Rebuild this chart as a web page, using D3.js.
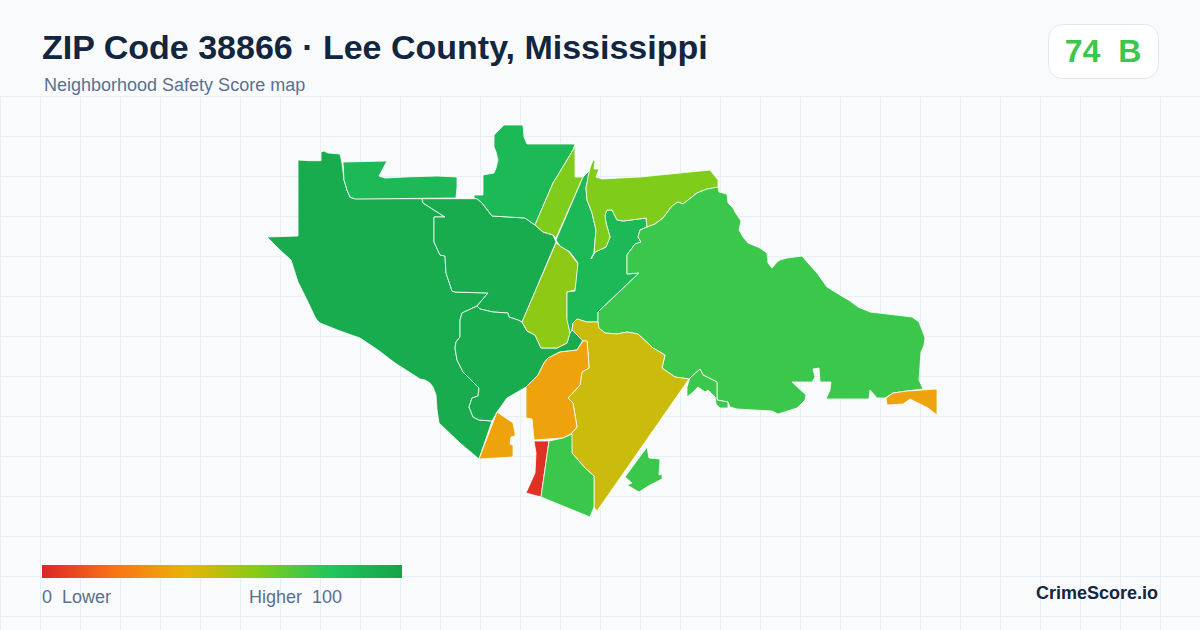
<!DOCTYPE html>
<html>
<head>
<meta charset="utf-8">
<title>ZIP Code 38866</title>
<script src="https://cdn.jsdelivr.net/npm/d3@7"></script>
<style>
  html, body { margin: 0; padding: 0; background: #f8fafc; }
  svg { display: block; }
  text { font-family: "Liberation Sans", Arial, sans-serif; white-space: pre; }
</style>
</head>
<body>
<svg id="chart" width="1200" height="630"></svg>
<script>
//
// Chart data. Boundaries are in map units.
//

var titleText = "ZIP Code 38866 \u00b7 Lee County, Mississippi";
var subtitleText = "Neighborhood Safety Score map";
var overallScore = 75;
var overallLabel = "74  B";
var legendStops = [0, 20, 40, 60, 80, 100];
var legendColors = ["#dc2626", "#f97316", "#eab308", "#84cc16", "#22c55e", "#16a34a"];

var westTract = [[38,40],[49,40.7],[61,40.7],[61,32],[64,31],[68,33],[80,34],[82,43],[84,60],[87,70],[90,77.5],[95,78.7],[162,78.7],[163,83],[185,97],[174,97],[174,122],[180,135],[185,136],[186,153],[192,171],[195,172],[228,173],[217,186],[202,193],[200,200],[200,217],[196,222],[195,228],[197,240],[203,252],[219,268],[218,276],[212,278],[209,287],[213,297],[219,300],[232,301],[219,339],[200,323],[179,303],[177,290],[176,275],[173,267],[170,263],[165,260],[160,259],[135,243],[118,230],[100,218],[80,211],[60,203],[57,200],[55,197],[47,180],[38,162],[31,140],[20,130],[7,117],[38,116]];
var lowerMidTract = [[202,193],[217,186],[220,189],[233,192],[248,193],[249,197],[258,200],[262,202],[267,211],[275,215],[281,228],[297,228],[307,223],[310,212],[312,210],[323,220],[317,230],[300,232],[288,238],[284,243],[278,255],[266,267],[247,278],[237,292],[232,301],[219,300],[213,297],[209,287],[212,278],[218,276],[219,268],[203,252],[197,240],[195,228],[196,222],[200,217],[200,200]];
var upperMidTract = [[162,78.7],[217,78.7],[222,83],[232,96],[265,98],[275,105],[283,112],[293,115],[296,122],[263,200],[262,202],[258,200],[249,197],[248,193],[233,192],[220,189],[217,186],[228,173],[195,172],[192,171],[186,153],[185,136],[180,135],[174,122],[174,97],[185,97],[163,83]];
var northStripTract = [[83,42],[127,41],[119,56],[125,58],[145,57],[177,56],[197,57],[197,67],[196,78],[95,79],[90,77],[87,70],[84,60]];
var northTract = [[244,5],[263,5],[264,17],[267,24],[315,24],[313,30],[298,55],[293,63],[275,105],[265,98],[232,96],[222,83],[217,78.7],[214,78],[214,75],[223,75],[223,55],[234,53],[236,48],[238,40],[236,32],[234,27],[234,15]];
var limeStripTract = [[315,24],[315,57],[323,57],[296,118],[293,115],[283,112],[275,105],[293,63],[298,55],[313,30]];
var limeLowerTract = [[296,123],[302,127],[308,131],[315,140],[318,144],[317,157],[315,170],[307,172],[307,197],[310,213],[307,223],[297,228],[281,228],[275,215],[267,211],[262,202]];
var forkTract = [[330,50],[326,68],[327,80],[332,93],[336,110],[334,133],[331,139],[335,132],[346,127],[350,117],[346,103],[345,95],[347,90],[352,90],[357,100],[363,101],[386,98],[387,107],[380,110],[378,117],[381,122],[375,124],[367,135],[367,154],[379,153],[338,192],[338,202],[327,202],[317,199],[313,203],[312,210],[310,213],[307,200],[307,172],[315,171],[318,143],[310,132],[300,126],[296,120],[323,57]];
var northEastTract = [[333,40],[335,41],[334,49],[339,49],[336,57],[342,59],[360,58],[380,57],[420,53],[450,50],[458,60],[458,68],[447,69],[437,73],[423,84],[418,82],[412,86],[403,98],[395,104],[387,107],[386,98],[363,101],[357,100],[352,90],[347,90],[345,95],[346,103],[350,117],[346,127],[335,132],[331,139],[334,133],[336,110],[332,93],[327,80],[326,68],[328,57],[330,48]];
var eastTract = [[458,67],[459,72],[467,74],[468,83],[473,88],[475,92],[481,101],[479,110],[483,117],[488,123],[500,128],[507,133],[508,143],[512,148],[517,142],[520,140],[527,138],[542,136],[548,143],[557,153],[562,160],[567,167],[580,175],[590,181],[598,187],[610,192],[627,194],[652,197],[659,202],[665,218],[664,225],[661,232],[659,260],[663,269],[647,271],[633,273],[625,278],[617,278],[610,270],[609,279],[566,279],[570,270],[571,262],[560,262],[559,248],[553,249],[555,257],[552,262],[532,262],[546,275],[545,280],[537,288],[518,294],[512,291],[477,289],[470,287],[468,282],[457,280],[457,262],[443,255],[440,249],[430,258],[429,259],[415,257],[402,248],[405,235],[393,228],[378,214],[367,212],[357,214],[345,213],[338,208],[338,192],[379,153],[367,154],[367,135],[375,124],[381,122],[378,117],[380,110],[387,107],[395,104],[403,98],[412,86],[418,82],[423,84],[437,73],[447,69]];
var hookTract = [[430,258],[440,249],[443,255],[457,262],[457,280],[468,282],[468,288],[460,288],[456,284],[455,277],[448,270],[445,272],[438,267],[432,273],[427,277],[427,267]];
var goldTract = [[313,203],[317,199],[327,202],[338,202],[339,208],[345,213],[357,214],[367,212],[378,214],[393,228],[405,235],[402,248],[415,257],[429,259],[337,391],[334,387],[334,356],[325,348],[312,333],[311,314],[317,307],[313,283],[308,278],[320,265],[322,252],[329,248],[328,233],[327,221],[323,221],[312,210]];
var orangeTract = [[323,221],[327,221],[328,233],[329,248],[322,252],[320,265],[308,278],[313,283],[317,307],[311,314],[303,318],[274,320],[272,299],[266,298],[266,267],[278,255],[284,243],[288,238],[300,232],[317,230]];
var smallOrangeTract = [[237,292],[253,303],[255,313],[255,316],[251,317],[250,324],[253,325],[253,337],[219,339]];
var redTract = [[274,321],[289,321],[281,377],[266,373],[275,353],[276,333]];
var southTract = [[289,321],[303,318],[312,314],[312,333],[325,348],[334,356],[334,387],[330,397],[281,377]];
var islandTract = [[387,327],[389,338],[400,339],[399,355],[402,354],[402,359],[390,365],[379,372],[367,365],[372,363],[365,357]];
var eastSliverTract = [[626,278],[633,273],[647,271],[677,269],[677,295],[668,288],[658,283],[650,279],[643,284],[627,285]];

// Painted in this order, later tracts sit on top.
var tractRings = [westTract, upperMidTract, lowerMidTract, northStripTract, northTract,
                  limeStripTract, limeLowerTract, forkTract, northEastTract, eastTract,
                  hookTract, goldTract, orangeTract, smallOrangeTract, redTract,
                  southTract, islandTract, eastSliverTract];
var tractScores = [95, 95, 95, 87, 87,
                   61, 58, 87, 61, 75,
                   75, 46, 35, 35, 3,
                   75, 75, 35];

//
// Scales.
//

var width = 1200, height = 630;
var svg = d3.select("#chart");

var mapX = d3.scaleLinear().domain([0, 680]).range([260, 940]);
var mapY = d3.scaleLinear().domain([0, 400]).range([120, 520]);
var scoreColor = d3.scaleLinear().domain(legendStops).range(legendColors);
var legendX = d3.scaleLinear().domain([0, 100]).range([42, 402]);

var ringPath = d3.line()
    .x(function(d) { return mapX(d[0]); })
    .y(function(d) { return mapY(d[1]); })
    .curve(d3.curveLinearClosed);

/**
 * Light graph paper behind the map, starting under the header.
 */
function drawGrid() {
    var grid = svg.append("g")
        .attr("stroke", "#e2ecf2")
        .attr("stroke-opacity", 0.8)
        .attr("stroke-width", 1);

    grid.selectAll(".vline")
        .data(d3.range(0, width + 1, 40))
        .enter().append("line")
        .attr("class", "vline")
        .attr("x1", function(d) { return d + 0.5; })
        .attr("x2", function(d) { return d + 0.5; })
        .attr("y1", 96)
        .attr("y2", height);

    grid.selectAll(".hline")
        .data(d3.range(96, height, 40))
        .enter().append("line")
        .attr("class", "hline")
        .attr("x1", 0)
        .attr("x2", width)
        .attr("y1", function(d) { return d + 0.5; })
        .attr("y2", function(d) { return d + 0.5; });
}

function drawTracts() {
    svg.append("g").selectAll("path")
        .data(tractRings)
        .enter().append("path")
        .attr("d", ringPath)
        .attr("fill", function(d, i) { return scoreColor(tractScores[i]); })
        .attr("stroke", "#ffffff")
        .attr("stroke-width", 0.8)
        .attr("stroke-linejoin", "round");
}

function drawHeader() {
    svg.append("text")
        .attr("x", 42).attr("y", 59)
        .attr("font-size", 34).attr("font-weight", 700)
        .attr("fill", "#12263f")
        .text(titleText);

    svg.append("text")
        .attr("x", 44).attr("y", 91)
        .attr("font-size", 18)
        .attr("fill", "#5a7090")
        .text(subtitleText);

    svg.append("rect")
        .attr("x", 1048.5).attr("y", 24.5)
        .attr("width", 110).attr("height", 54)
        .attr("rx", 14)
        .attr("fill", "#ffffff")
        .attr("stroke", "#e2e8f0");

    svg.append("text")
        .attr("x", 1103).attr("y", 62)
        .attr("text-anchor", "middle")
        .attr("font-size", 32).attr("font-weight", 700)
        .attr("fill", scoreColor(overallScore))
        .text(overallLabel);
}

function drawLegend() {
    var gradient = svg.append("defs").append("linearGradient")
        .attr("id", "score-ramp");

    gradient.selectAll("stop")
        .data(legendStops)
        .enter().append("stop")
        .attr("offset", function(d) { return d + "%"; })
        .attr("stop-color", function(d) { return scoreColor(d); });

    svg.append("rect")
        .attr("x", legendX(0)).attr("y", 565)
        .attr("width", legendX(100) - legendX(0)).attr("height", 13)
        .attr("fill", "url(#score-ramp)");

    svg.append("text")
        .attr("x", 42).attr("y", 603)
        .attr("font-size", 18)
        .attr("fill", "#5a7090")
        .text("0  Lower");

    svg.append("text")
        .attr("x", 342).attr("y", 603)
        .attr("text-anchor", "end")
        .attr("font-size", 18)
        .attr("fill", "#5a7090")
        .text("Higher  100");

    svg.append("text")
        .attr("x", 1158).attr("y", 599)
        .attr("text-anchor", "end")
        .attr("font-size", 18).attr("font-weight", 700)
        .attr("fill", "#12263f")
        .text("CrimeScore.io");
}

drawGrid();
drawTracts();
drawHeader();
drawLegend();
</script>
</body>
</html>
